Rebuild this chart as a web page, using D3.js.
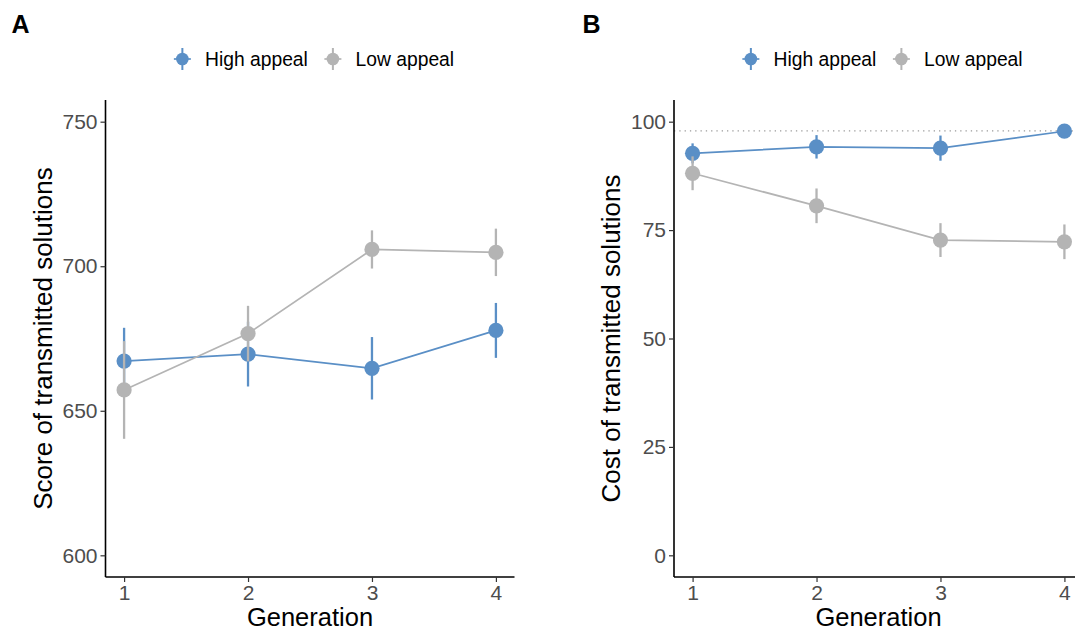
<!DOCTYPE html>
<html>
<head>
<meta charset="utf-8">
<script src="https://cdn.jsdelivr.net/npm/d3@7"></script>
<style>
  html, body { margin: 0; padding: 0; background: #fff; }
  svg { display: block; font-family: "Liberation Sans", Arial, Helvetica, sans-serif; }
</style>
</head>
<body>
<svg id="chart" width="1075" height="632"></svg>
<script>
// ---- data ----
const generations = [1, 2, 3, 4];
const seriesNames = ["High appeal", "Low appeal"];
const seriesColors = ["#5a8fc6", "#b4b4b4"];

const scoreHigh = [667.2, 669.6, 664.7, 677.8];
const scoreHighErr = [11.5, 11.2, 10.8, 9.5];
const scoreLow = [657.2, 676.7, 705.8, 704.8];
const scoreLowErr = [16.9, 9.6, 6.6, 8.2];

const costHigh = [92.7, 94.2, 93.9, 97.8];
const costHighErr = [2.3, 2.7, 2.9, 0.6];
const costLow = [88.1, 80.6, 72.7, 72.3];
const costLowErr = [3.9, 4.0, 3.9, 4.0];

const scoreTicks = [600, 650, 700, 750];
const costTicks = [0, 25, 50, 75, 100];
const costReference = 97.9;

const panelLabels = ["A", "B"];
const yTitles = ["Score of transmitted solutions", "Cost of transmitted solutions"];
const xTitle = "Generation";

// ---- layout ----
const svg = d3.select("#chart");
const plotTop = 100, plotBottom = 577;

function panel(opts) {
  const g = svg.append("g");
  const x = d3.scaleLinear().domain([0.85, 4.15]).range([opts.left, opts.left + 409]);
  const y = d3.scaleLinear().domain(opts.yDomain).range([plotBottom, plotTop]);

  // reference line
  if (opts.ref !== undefined) {
    g.append("line")
      .attr("x1", opts.left).attr("x2", opts.left + 409)
      .attr("y1", y(opts.ref)).attr("y2", y(opts.ref))
      .attr("stroke", "#9a9a9a").attr("stroke-width", 1.2)
      .attr("stroke-dasharray", "1.3,4");
  }

  // series lines
  opts.series.forEach((s, i) => {
    const col = seriesColors[i];
    const pts = generations.map((gen, k) => ({ gen, v: s.vals[k], e: s.err[k] }));
    g.append("path").datum(pts)
      .attr("fill", "none").attr("stroke", col).attr("stroke-width", 1.7)
      .attr("d", d3.line().x(d => x(d.gen)).y(d => y(d.v)));
  });
  // point ranges
  opts.series.forEach((s, i) => {
    const col = seriesColors[i];
    const pts = generations.map((gen, k) => ({ gen, v: s.vals[k], e: s.err[k] }));
    const pr = g.append("g");
    pr.selectAll("line").data(pts).join("line")
      .attr("x1", d => x(d.gen)).attr("x2", d => x(d.gen))
      .attr("y1", d => y(d.v - d.e)).attr("y2", d => y(d.v + d.e))
      .attr("stroke", col).attr("stroke-width", 2.3);
    pr.selectAll("circle").data(pts).join("circle")
      .attr("cx", d => x(d.gen)).attr("cy", d => y(d.v)).attr("r", 7.6)
      .attr("fill", col);
  });

  // axes
  const yAxis = g.append("g").attr("transform", `translate(${opts.left},0)`)
    .call(d3.axisLeft(y).tickValues(opts.yTicks).tickSize(5).tickPadding(3).tickFormat(d3.format("d")));
  const xAxis = g.append("g").attr("transform", `translate(0,${plotBottom})`)
    .call(d3.axisBottom(x).tickValues(generations).tickSize(5).tickPadding(3).tickFormat(d3.format("d")));
  [yAxis, xAxis].forEach(ax => {
    ax.select(".domain").attr("stroke", "#000").attr("stroke-width", 1.6);
    ax.selectAll(".tick line").attr("stroke", "#333").attr("stroke-width", 1.2);
    ax.selectAll(".tick text").attr("fill", "#4d4d4d")
      .style("font-size", "21px").style("font-family", "'Liberation Sans', Arial, sans-serif");
  });
  yAxis.select(".domain").attr("d", `M0,${plotTop}V${plotBottom}`);
  xAxis.select(".domain").attr("d", `M${opts.left},0H${opts.left + 409}`);

  // titles
  g.append("text")
    .attr("transform", `translate(${opts.left - 54},${(plotTop + plotBottom) / 2}) rotate(-90)`)
    .attr("text-anchor", "middle").attr("fill", "#000")
    .style("font-size", "26px").text(opts.yTitle);
  g.append("text")
    .attr("x", opts.left + 204.5).attr("y", 626)
    .attr("text-anchor", "middle").attr("fill", "#000")
    .style("font-size", "25.5px").text(xTitle);

  // panel label
  g.append("text")
    .attr("x", opts.labelX).attr("y", 33)
    .attr("fill", "#000").style("font-size", "25px").style("font-weight", "bold")
    .text(opts.label);

  // legend
  const lg = g.append("g");
  let cx = 0;
  seriesNames.forEach((name, i) => {
    const it = lg.append("g").attr("transform", `translate(${cx},0)`);
    it.append("line").attr("x1", -8.5).attr("x2", 8.5).attr("y1", 0).attr("y2", 0)
      .attr("stroke", seriesColors[i]).attr("stroke-width", 1.7);
    it.append("line").attr("x1", 0).attr("x2", 0).attr("y1", -11).attr("y2", 11)
      .attr("stroke", seriesColors[i]).attr("stroke-width", 2);
    it.append("circle").attr("r", 6.3).attr("fill", seriesColors[i]);
    const t = it.append("text").attr("x", 22.6).attr("y", 7)
      .attr("fill", "#000").style("font-size", "19.3px").text(name);
    const w = t.node().getComputedTextLength();
    cx += 22.6 + w + 25;
  });
  const totalW = cx - 25 + 8.5;
  const center = opts.left + 204.5 + 4;
  lg.attr("transform", `translate(${center - totalW / 2 + 8.5},59)`);
}

panel({
  left: 105.5, yDomain: [592.5, 757.5], yTicks: scoreTicks,
  series: [{ vals: scoreHigh, err: scoreHighErr }, { vals: scoreLow, err: scoreLowErr }],
  yTitle: yTitles[0], label: panelLabels[0], labelX: 11.5
});
panel({
  left: 674, yDomain: [-5, 105], yTicks: costTicks, ref: costReference,
  series: [{ vals: costHigh, err: costHighErr }, { vals: costLow, err: costLowErr }],
  yTitle: yTitles[1], label: panelLabels[1], labelX: 582.5
});
</script>
</body>
</html>
